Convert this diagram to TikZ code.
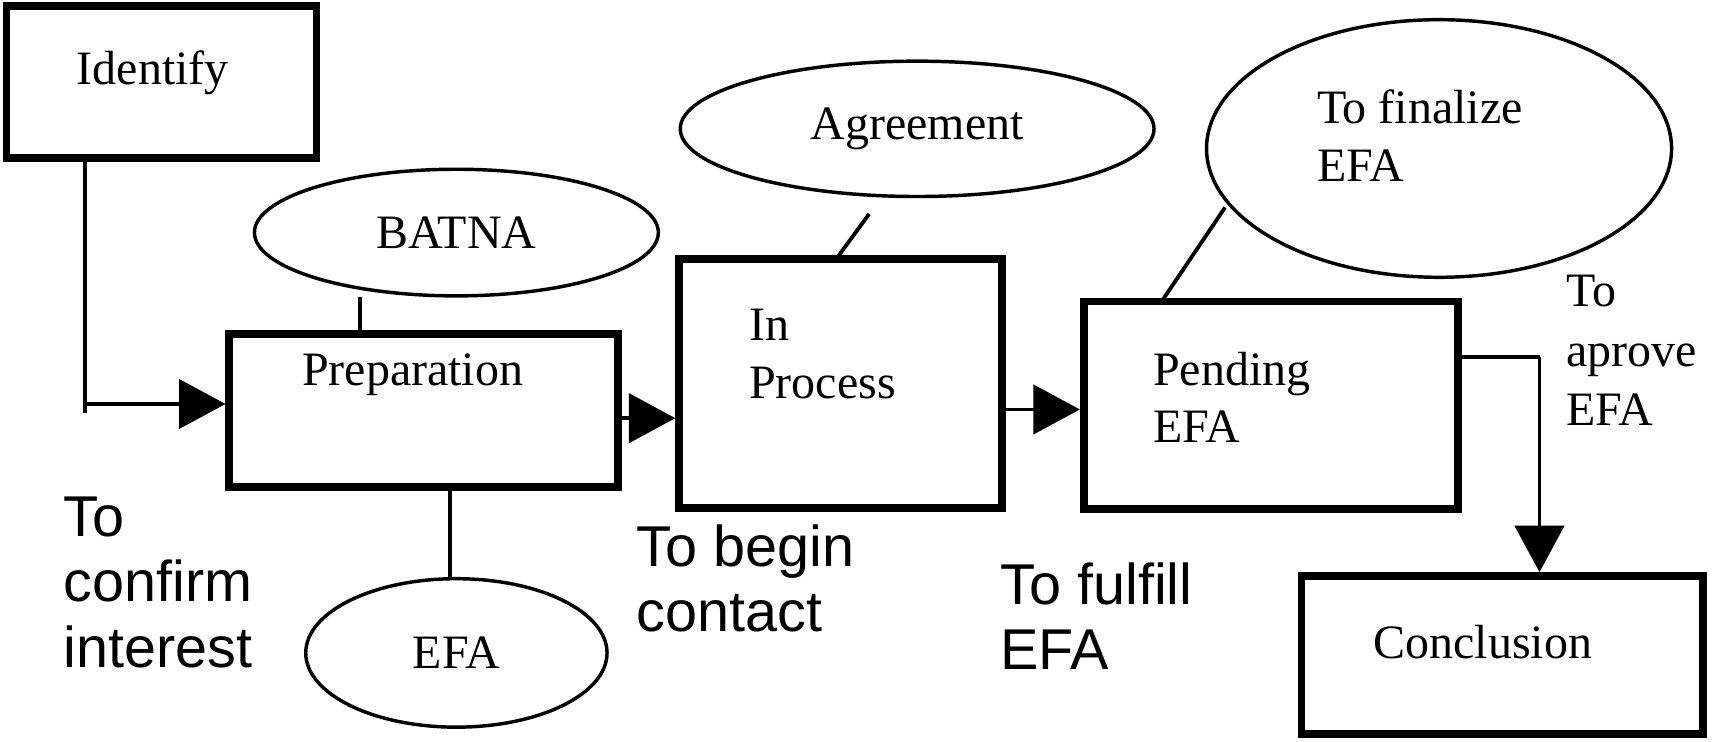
\documentclass[tikz,border=0pt]{standalone}
\usepackage{fontspec}
\setmainfont{Liberation Serif}
\newfontfamily\lblfont{Liberation Sans}
\usetikzlibrary{arrows.meta,positioning,shapes.geometric}
\tikzset{
  stage/.style={draw, line width=4pt, inner sep=0pt, font=\fontsize{25}{30}\selectfont},
  topic/.style={draw, ellipse, line width=1.8pt, inner sep=0pt, font=\fontsize{25}{30}\selectfont},
  link/.style={line width=2pt},
  flow/.style={line width=2pt, -{Triangle[length=0.85cm,width=0.9cm]}},
  steplabel/.style={align=left, anchor=north west, inner sep=0pt, font=\lblfont\fontsize{30}{34}\selectfont}
}
\begin{document}
\begin{tikzpicture}[x=0.02cm, y=-0.02cm]
\useasboundingbox (0,0) rectangle (1568,679);
% stages
\node[stage, minimum width=5.68cm, minimum height=2.78cm] (identify) at (148,75) {};
\node at (140,67) {\fontsize{25}{30}\selectfont Identify};
\node[stage, minimum width=7.12cm, minimum height=2.8cm] (prep) at (388,376) {};
\node at (378,343) {\fontsize{25}{30}\selectfont Preparation};
\node[stage, minimum width=5.92cm, minimum height=4.56cm] (inproc) at (770,351) {};
\node[anchor=west, align=left, font=\fontsize{25}{30}\selectfont] at (680,324) {In\\Process};
\node[stage, minimum width=6.86cm, minimum height=3.8cm] (pending) at (1164,371) {};
\node[anchor=west, align=left, font=\fontsize{25}{30}\selectfont] at (1050,364) {Pending\\EFA};
\node[stage, minimum width=7.36cm, minimum height=2.9cm] (concl) at (1376,600) {};
\node at (1358,588) {\fontsize{25}{30}\selectfont Conclusion};
% topics
\node[topic, minimum width=7.4cm, minimum height=2.32cm] (batna) at (418,213) {BATNA};
\node[topic, minimum width=5.52cm, minimum height=2.72cm] (efa) at (418,598) {EFA};
\node[topic, minimum width=8.68cm, minimum height=2.48cm] (agree) at (840,118) {Agreement};
\node[topic, minimum width=8.52cm, minimum height=4.72cm] (final) at (1318,136) {};
\node[anchor=west, align=left, font=\fontsize{25}{30}\selectfont] at (1200,124) {To finalize\\EFA};
% connectors
\coordinate (turn) at (78,370);
\coordinate (bend) at (1410,327);
\draw[link] (identify.south -| turn) -- (78,378);
\draw[flow] (78,370) -- (prep.west |- turn);
\draw[link] (330,272) -- (prep.north -| 330,0);
\draw[link] (prep.south -| 412,0) -- (efa.north -| 412,0);
\draw[link] (796,196) -- (766,237);
\draw[link] (1122,190) -- (1064,276);
\draw[flow] (prep.east |- 0,383) -- (inproc.west |- 0,383);
\draw[flow] (inproc.east |- 0,375) -- (pending.west |- 0,375);
\draw[link] (pending.east |- bend) -- (bend);
\draw[flow] (bend) -- (concl.north -| bend);
% step labels
\node[steplabel] (confirm) at (58,455) {To\\confirm\\interest};
\node[steplabel] (begin) at (583,480) {To begin\\contact};
\node[steplabel] (fulfill) at (916,515) {To fulfill\\EFA};
\node[align=left, anchor=north west, inner sep=0pt, font=\fontsize{25}{31}\selectfont] (aprove) at (1434,252) {To\\aprove\\EFA};
\end{tikzpicture}
\end{document}
